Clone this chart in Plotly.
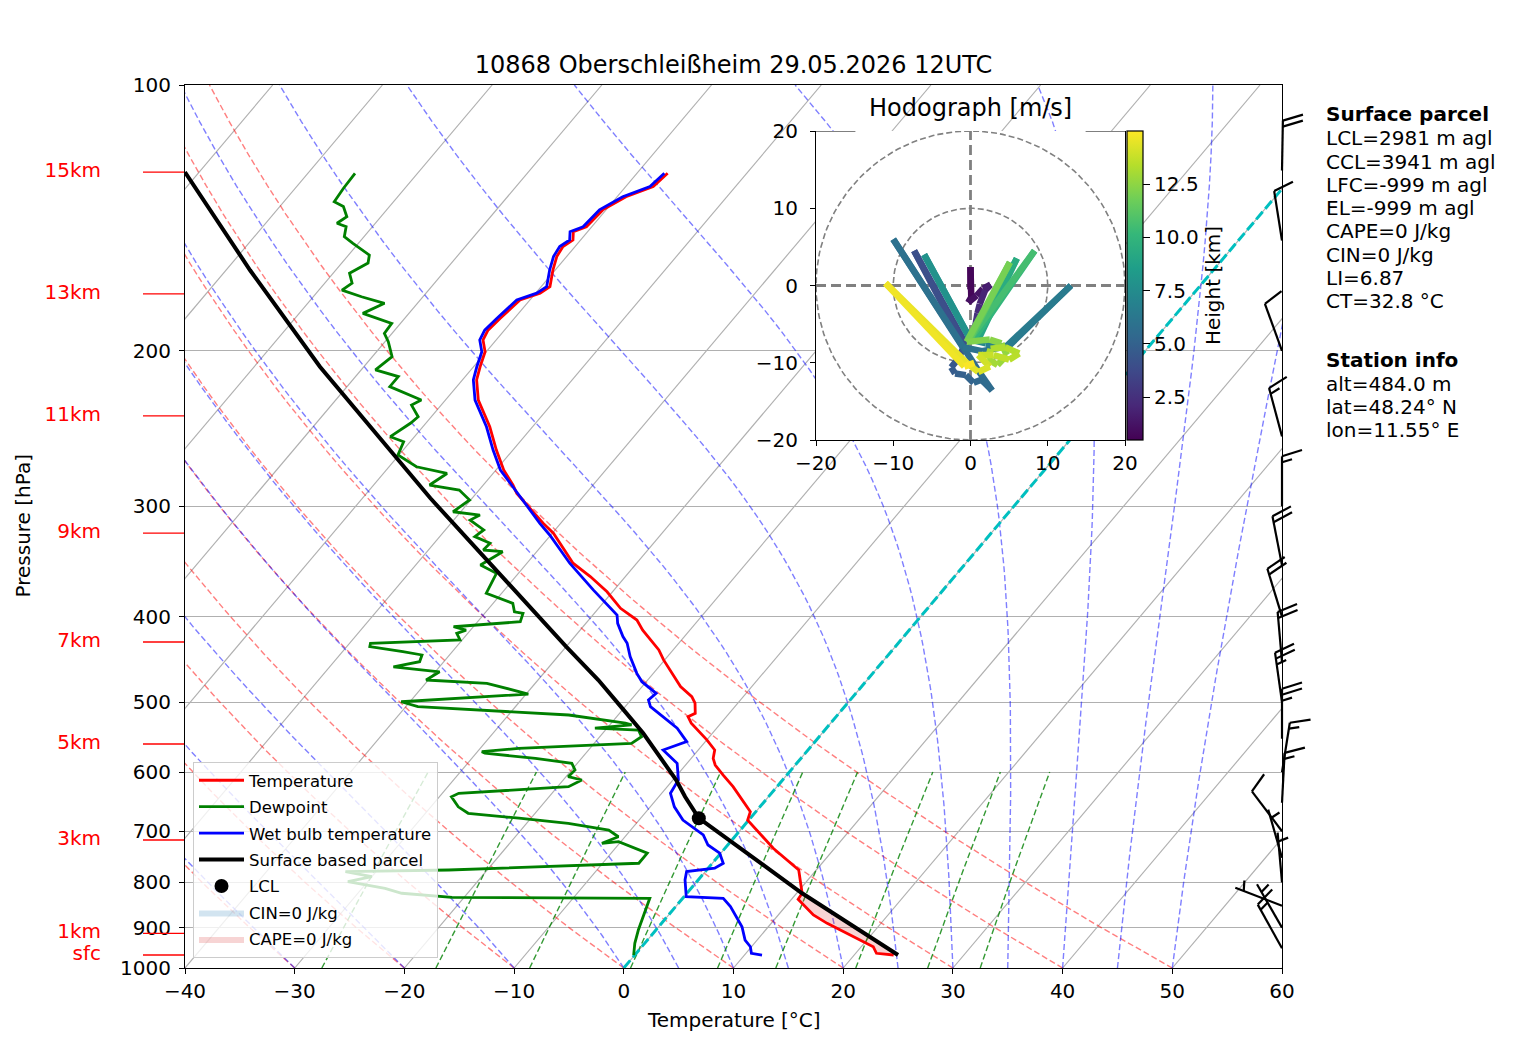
import numpy as np
import plotly.graph_objects as go
from plotly.colors import sample_colorscale

# ---------------------------------------------------------------- data
TITLE = "10868 Oberschleißheim 29.05.2026 12UTC"

# temperature profile (hPa, degC)
T_P = [966.7, 962.4, 946.0, 921.6, 890.1, 870.9, 835.9, 822.9, 794.8, 774.5,
       731.8, 700.9, 680.0, 665.3, 623.3, 604.6, 589.0, 578.8, 566.4, 551.6,
       528.2, 519.2, 514.7, 501.3, 492.8, 480.1, 447.8, 436.3, 414.3, 403.6,
       391.4, 374.9, 360.3, 348.0, 321.8, 313.6, 290.1, 283.8, 272.9, 259.1,
       243.8, 227.4, 215.8, 208.5, 200.5, 194.4, 189.5, 183.7, 178.3, 175.2,
       172.1, 169.2, 162.1, 156.4, 152.4, 149.8, 146.6, 144.7, 138.5, 133.8,
       130.3, 127.0, 125.9]
T_C = [23.6, 21.9, 21.1, 18.5, 15.1, 13.2, 10.6, 10.5, 9.3, 8.4,
       4.4, 1.8, -0.1, -0.5, -4.0, -5.8, -7.3, -8.0, -8.5, -10.0,
       -12.7, -13.5, -13.1, -13.9, -14.7, -16.5, -20.1, -21.3, -24.3, -25.6,
       -28.0, -30.5, -33.2, -35.8, -39.9, -41.6, -46.3, -47.3, -49.3, -51.5,
       -53.9, -57.0, -58.7, -59.4, -60.1, -61.2, -61.5, -61.3, -61.0, -60.9,
       -59.6, -59.2, -60.2, -60.9, -61.1, -60.7, -61.3, -60.5, -60.3, -59.2,
       -57.5, -57.3, -57.2]

# dewpoint profile
TD_P = [966.7, 937.6, 905.7, 874.7, 852.2, 833.8, 831.8, 822.9, 812.4, 798.5,
        788.1, 777.7, 774.5, 761.0, 741.3, 728.9, 719.4, 722.4, 710.2, 697.8,
        685.9, 676.6, 668.0, 656.9, 639.8, 634.1, 623.3, 612.5, 607.2, 596.6,
        586.4, 578.8, 571.2, 568.9, 563.9, 556.6, 547.0, 537.6, 535.1, 530.6,
        528.2, 517.0, 505.8, 499.4, 489.5, 476.0, 471.9, 461.9, 455.9, 449.9,
        442.1, 438.3, 432.6, 428.8, 425.0, 417.8, 414.3, 410.7, 405.4, 396.6,
        395.0, 386.4, 376.3, 363.5, 357.3, 349.6, 337.7, 336.2, 330.4, 324.7,
        319.1, 311.0, 306.9, 304.3, 295.1, 287.6, 283.8, 275.4, 270.6, 262.4,
        253.5, 250.2, 241.6, 237.5, 230.4, 227.4, 219.6, 213.9, 210.2, 203.1,
        195.3, 191.1, 186.2, 181.4, 176.7, 173.7, 170.7, 167.7, 163.4, 159.1,
        155.8, 151.1, 148.5, 144.7, 143.4, 141.0, 137.3, 135.6, 130.9, 125.9]
TD_C = [-0.1, -0.9, -1.6, -2.2, -2.6, -3.0, -21.1, -26.0, -27.9, -31.8,
        -30.0, -32.8, -23.5, -6.7, -6.7, -8.6, -10.2, -11.6, -10.6, -12.0,
        -16.2, -21.1, -26.1, -27.5, -28.9, -28.5, -19.0, -18.3, -19.8, -19.7,
        -20.5, -24.2, -29.2, -29.6, -26.5, -16.6, -16.2, -17.0, -21.1, -18.0,
        -18.7, -24.5, -38.9, -40.8, -29.8, -34.4, -40.2, -39.6, -44.2, -42.2,
        -42.5, -44.5, -47.9, -48.1, -40.2, -41.0, -40.4, -41.8, -36.1, -36.5,
        -37.4, -38.2, -41.4, -41.8, -42.0, -44.1, -43.1, -45.0, -44.9, -46.8,
        -46.5, -48.5, -48.0, -50.7, -50.1, -51.8, -54.9, -54.2, -57.5, -60.1,
        -60.6, -62.2, -61.4, -61.2, -62.7, -62.2, -66.1, -66.1, -68.7, -68.2,
        -69.7, -70.7, -70.8, -74.2, -73.0, -75.6, -77.9, -77.5, -78.5, -77.6,
        -78.1, -80.5, -81.8, -82.4, -83.5, -83.1, -84.2, -85.4, -85.6, -85.7]

# wet bulb temperature profile
TW_P = [966.7, 962.4, 946.0, 929.6, 898.1, 867.0, 852.2, 833.8, 830.3, 794.8,
        777.7, 770.9, 761.0, 741.3, 725.6, 706.9, 697.8, 680.0, 656.9, 634.1,
        612.5, 586.4, 566.4, 554.1, 535.1, 523.7, 505.8, 497.0, 488.6, 474.0,
        463.8, 444.0, 428.8, 421.4, 407.1, 398.3, 386.4, 373.1, 348.0, 323.3,
        313.6, 287.6, 272.9, 259.1, 243.8, 227.4, 215.8, 208.5, 200.5, 194.4,
        189.5, 183.7, 178.3, 175.2, 172.1, 169.2, 162.1, 156.4, 152.4, 149.8,
        146.6, 144.7, 138.5, 133.8, 130.3, 127.0, 125.9]
TW_C = [11.6, 10.5, 9.9, 8.9, 7.6, 5.8, 5.0, 3.7, 0.2, -1.2,
        -1.7, 0.6, 1.0, -0.1, -1.8, -3.0, -4.0, -6.0, -7.8, -9.2,
        -9.5, -10.9, -13.2, -11.7, -13.6, -15.2, -17.7, -18.4, -18.2, -20.4,
        -21.5, -23.4, -24.7, -25.6, -27.1, -27.8, -29.7, -31.9, -36.1, -40.1,
        -41.9, -46.7, -49.6, -51.8, -54.2, -57.3, -59.0, -59.7, -60.4, -61.5,
        -61.8, -61.6, -61.3, -61.2, -59.9, -59.5, -60.5, -61.2, -61.4, -61.0,
        -61.6, -60.8, -60.6, -59.5, -57.8, -57.6, -57.5]

# surface based parcel path
PARCEL_P = [966.7, 822.9, 676.6, 639.8, 612.5, 542.3, 510.1, 471.9, 432.6,
            351.1, 319.1, 293.8, 208.5, 162.1, 125.5]
PARCEL_C = [24.0, 10.5, -4.7, -7.6, -9.7, -16.3, -19.9, -24.5, -30.0,
            -42.8, -48.7, -53.8, -74.0, -87.8, -101.3]
LCL_P, LCL_C = 676.6, -4.7

# height marks on the left
HEIGHT_LABELS = ["15km", "13km", "11km", "9km", "7km", "5km", "3km", "1km", "sfc"]
HEIGHT_P = [125.5, 172.4, 237.0, 321.7, 427.3, 557.6, 716.1, 913.6, 966.7]

# wind barbs (direction in deg, speed in kt)
BARB_P = [125, 150, 200, 250, 300, 350, 400, 450, 500, 550, 600, 650,
          700, 750, 800, 850, 900, 950]
BARB_DIR = [1, 351, 340, 345, 0, 349, 343, 355, 352, 0, 9, 3,
            323, 344, 355, 291, 330, 331]
BARB_KT = [20, 10, 10, 15, 15, 20, 20, 20, 25, 25, 15, 15,
           10, 5, 5, 5, 5, 15]

# hodograph (m/s) and height (km)
HODO_U = [0.0, 0.0, 0.1, -0.3, 0.8, 1.6, 2.6, 1.9, 1.2, 0.9,
          0.7, 0.4, -0.6, -7.3, -0.8, -1.6, -2.5, -2.0, -0.6, 0.4,
          1.4, 2.8, 1.0, -1.3, -10.0, -1.0, 1.5, 5.0, 13.0, 4.5,
          2.0, 0.0, -6.0, 0.0, 1.0, 6.0, 0.5, 8.3, 0.0, 5.1,
          -0.5, 2.5, 4.0, 4.7, 3.5, 2.2, 2.6, 4.5, 6.3, 5.0,
          3.0, 1.0, 2.5, 1.0, -0.5, -11.0, -0.8, 0.5]
HODO_V = [-0.5, 2.4, -1.5, -2.2, -1.3, -0.4, 0.1, -0.6, -2.4, -3.6,
          -4.8, -6.2, -7.6, 4.5, -7.8, -9.5, -10.6, -11.4, -11.6, -12.6,
          -12.2, -13.6, -11.0, -7.4, 6.0, -8.0, -8.5, -7.8, 0.0, -8.0,
          -7.5, -7.0, 4.0, -7.0, -7.0, 3.5, -6.8, 4.5, -6.8, 3.0,
          -7.3, -7.0, -7.5, -9.0, -10.3, -9.5, -8.2, -8.0, -8.8, -9.6,
          -9.0, -9.0, -10.5, -11.2, -10.0, 0.3, -10.5, -10.0]
HODO_H = [0.48, 0.6, 0.8, 1.0, 1.2, 1.4, 1.6, 1.8, 2.1, 2.4,
          2.8, 3.2, 3.6, 3.9, 4.1, 4.4, 4.6, 4.8, 5.0, 5.2,
          5.4, 5.5, 5.6, 5.7, 5.8, 5.9, 6.0, 6.2, 6.4, 6.6,
          7.0, 7.4, 7.7, 8.0, 8.8, 9.3, 9.6, 10.4, 10.8, 11.8,
          12.1, 12.3, 12.5, 12.7, 12.9, 13.1, 13.2, 13.3, 13.4, 13.5,
          13.7, 13.9, 14.1, 14.3, 14.5, 14.6, 14.8, 15.0]

PARCEL_TEXT = ["LCL=2981 m agl", "CCL=3941 m agl", "LFC=-999 m agl",
               "EL=-999 m agl", "CAPE=0 J/kg", "CIN=0 J/kg", "LI=6.87",
               "CT=32.8 °C"]
STATION_TEXT = ["alt=484.0 m", "lat=48.24° N", "lon=11.55° E"]

# ---------------------------------------------------------------- chart setup
W, H = 1517, 1054           # browser window
PAGE_PAD = 8                # default body margin of the html page
FIG_W, FIG_H = W - 2 * PAGE_PAD, H - 2 * PAGE_PAD
FONT = "DejaVu Sans"
PLOT_L, PLOT_R, PLOT_T, PLOT_B = 185, 1282, 85, 968      # main axes, window px
HODO_L, HODO_R, HODO_T, HODO_B = 816, 1125, 131, 440     # hodograph axes, window px
BARB_RIGHT = 1330
PX_PER_DEC = PLOT_B - PLOT_T                              # one pressure decade
SKEW = 68.0                                               # degC per decade
P_BOT, P_TOP = 1000, 100
P_TICKS = [100, 200, 300, 400, 500, 600, 700, 800, 900, 1000]
T_TICKS = list(range(-40, 61, 10))
DRY_T0 = list(range(-40, 51, 10))
MOIST_T0 = list(range(-40, 0, 10)) + list(range(0, 51, 5))
MIX_W = [0.0004, 0.001, 0.002, 0.004, 0.007, 0.01, 0.016, 0.024, 0.032]
HODO_LIM = 20
HODO_TOP_GAP = 14.9

RD, CP, LV, EPS = 287.04749, 1004.6662, 2.50084e6, 0.6219569


def px(x):
    return (x - PAGE_PAD) / FIG_W


def py(y):
    return 1 - (y - PAGE_PAD) / FIG_H


def skew_x(t, p):
    return np.asarray(t, dtype=float) + SKEW * np.log10(P_BOT / np.asarray(p, dtype=float))


def moist_dt(p, t):
    es = 6.112 * np.exp(17.67 * (t - 273.15) / (t - 29.65))
    rs = EPS * es / (p - es)
    return (RD * t + LV * rs) / (CP + LV * LV * rs * EPS / (RD * t * t)) / p


def moist_profile(t0, pres):
    t = t0 + 273.15
    out = [t]
    for i in range(len(pres) - 1):
        p, h = pres[i], pres[i + 1] - pres[i]
        k1 = moist_dt(p, t)
        k2 = moist_dt(p + h / 2, t + h / 2 * k1)
        k3 = moist_dt(p + h / 2, t + h / 2 * k2)
        k4 = moist_dt(p + h, t + h * k3)
        t = t + h / 6 * (k1 + 2 * k2 + 2 * k3 + k4)
        out.append(t)
    return np.array(out) - 273.15


def line(x, y, color, width, dash="solid", xaxis="x", yaxis="y", **kw):
    return go.Scatter(x=x, y=y, mode="lines", xaxis=xaxis, yaxis=yaxis,
                      line=dict(color=color, width=width, dash=dash),
                      hoverinfo="skip", showlegend=kw.pop("showlegend", False), **kw)


fig = go.Figure()

# isotherms
for t in range(-110, 61, 10):
    fig.add_trace(line(skew_x([t, t], [P_BOT, P_TOP]), [P_BOT, P_TOP], "#b0b0b0", 1.15))

p_full = np.linspace(P_BOT, P_TOP, 91)
# dry adiabats
for t0 in DRY_T0:
    t = (t0 + 273.15) * (p_full / 1000.0) ** 0.2857 - 273.15
    fig.add_trace(line(skew_x(t, p_full), p_full, "rgba(255,0,0,0.5)", 1.4, "6px,3px"))
# moist adiabats
for t0 in MOIST_T0:
    t = moist_profile(t0, p_full)
    fig.add_trace(line(skew_x(t, p_full), p_full, "rgba(0,0,255,0.5)", 1.4, "6px,3px"))
# mixing ratio lines
p_mix = np.linspace(1000, 600, 20)
for w in MIX_W:
    e = p_mix * w / (EPS + w)
    le = np.log(e / 6.112)
    td = 243.5 * le / (17.67 - le)
    fig.add_trace(line(skew_x(td, p_mix), p_mix, "rgba(0,128,0,0.8)", 1.4, "6px,3px"))
# 0 degC isotherm
fig.add_trace(line(skew_x([0, 0], [P_BOT, P_TOP]), [P_BOT, P_TOP], "#00bfbf", 3, "10px,4px"))

# CAPE shading (parcel warmer than environment near the ground)
n_low = sum(1 for p in T_P if p >= PARCEL_P[1])
cape_p = T_P[:n_low] + PARCEL_P[1::-1]
cape_t = T_C[:n_low] + PARCEL_C[1::-1]
fig.add_trace(go.Scatter(x=skew_x(cape_t, cape_p), y=cape_p, mode="lines", fill="toself",
                         fillcolor="rgba(214,39,40,0.2)", line=dict(width=0),
                         name="CAPE=0 J/kg", legendgroup="g7", legendrank=7, hoverinfo="skip"))

fig.add_trace(line(skew_x(T_C, T_P), T_P, "#ff0000", 2.8, name="Temperature",
                   showlegend=True, legendgroup="g1", legendrank=1))
fig.add_trace(line(skew_x(TD_C, TD_P), TD_P, "#008000", 2.8, name="Dewpoint",
                   showlegend=True, legendgroup="g2", legendrank=2))
fig.add_trace(line(skew_x(TW_C, TW_P), TW_P, "#0000ff", 2.8, name="Wet bulb temperature",
                   showlegend=True, legendgroup="g3", legendrank=3))
fig.add_trace(line(skew_x(PARCEL_C, PARCEL_P), PARCEL_P, "black", 4, name="Surface based parcel",
                   showlegend=True, legendgroup="g4", legendrank=4))
fig.add_trace(go.Scatter(x=skew_x([LCL_C], [LCL_P]), y=[LCL_P], mode="markers",
                         marker=dict(color="black", size=14), name="LCL",
                         legendgroup="g5", legendrank=5, hoverinfo="skip"))
fig.add_trace(go.Scatter(x=[None], y=[None], mode="lines", fill="toself",
                         fillcolor="rgba(31,119,180,0.2)", line=dict(width=0),
                         name="CIN=0 J/kg", legendgroup="g6", legendrank=6))

# height marks left of the axis (own x axis, pressure axis without grid)
mark_x, mark_y = [], []
for p in HEIGHT_P:
    mark_x += [143, 184, None]
    mark_y += [p, p, None]
fig.add_trace(line(mark_x, mark_y, "#ff0000", 1.4, xaxis="x4", yaxis="y3"))
fig.add_trace(go.Scatter(x=[101] * len(HEIGHT_P), y=HEIGHT_P, text=HEIGHT_LABELS,
                         mode="text", textposition="middle left", xaxis="x4", yaxis="y3",
                         textfont=dict(color="#ff0000", size=20, family=FONT),
                         showlegend=False, hoverinfo="skip"))

# wind barbs at the right edge
STAFF, FEATHER, SPACING = 50.0, 20.0, 6.0
bx, by = [], []


def to_p(p, up):
    return p * 10 ** (-up / PX_PER_DEC)


for p, d, spd in zip(BARB_P, BARB_DIR, BARB_KT):
    a = np.radians(d)
    sx, sy = np.sin(a), np.cos(a)
    nx, ny = sy, -sx
    bx += [PLOT_R, PLOT_R + STAFF * sx, None]
    by += [p, to_p(p, STAFF * sy), None]
    n_full, half = int(spd // 10), (spd % 10) >= 5
    for i in range(n_full):
        ox, oy = STAFF * sx - i * SPACING * sx, STAFF * sy - i * SPACING * sy
        bx += [PLOT_R + ox, PLOT_R + ox + FEATHER * nx + 6.25 * sx, None]
        by += [to_p(p, oy), to_p(p, oy + FEATHER * ny + 6.25 * sy), None]
    if half:
        k = n_full if n_full else 1.5
        ox, oy = STAFF * sx - k * SPACING * sx, STAFF * sy - k * SPACING * sy
        bx += [PLOT_R + ox, PLOT_R + ox + FEATHER / 2 * nx + 3.1 * sx, None]
        by += [to_p(p, oy), to_p(p, oy + FEATHER / 2 * ny + 3.1 * sy), None]
fig.add_trace(line(bx, by, "black", 2.2, xaxis="x3", yaxis="y3"))

# ---------------------------------------------------------------- hodograph
lim = [-HODO_LIM, HODO_LIM]
fig.add_trace(go.Scatter(x=[lim[0], lim[1], lim[1], lim[0], lim[0]],
                         y=[lim[0], lim[0], lim[1], lim[1], lim[0]],
                         mode="lines", fill="toself", fillcolor="white", line=dict(width=0),
                         xaxis="x2", yaxis="y2", showlegend=False, hoverinfo="skip"))
ang = np.linspace(0, 2 * np.pi, 181)
for r in (10, 20):
    fig.add_trace(line(r * np.cos(ang), r * np.sin(ang), "#808080", 1.6, "6px,3px",
                       xaxis="x2", yaxis="y2"))
fig.add_trace(line(lim, [0, 0], "#808080", 2.8, "10px,5px", xaxis="x2", yaxis="y2"))
fig.add_trace(line([0, 0], lim, "#808080", 2.8, "10px,5px", xaxis="x2", yaxis="y2"))

h_min, h_max = min(HODO_H), max(HODO_H)
for i in range(len(HODO_U) - 1):
    hm = (HODO_H[i] + HODO_H[i + 1]) / 2
    col = sample_colorscale("Viridis", [(hm - h_min) / (h_max - h_min)])[0]
    fig.add_trace(line(HODO_U[i:i + 2], HODO_V[i:i + 2], col, 6.5, xaxis="x2", yaxis="y2"))

fig.add_trace(go.Scatter(
    x=HODO_U, y=HODO_V, mode="markers", xaxis="x2", yaxis="y2", showlegend=False,
    hoverinfo="skip",
    marker=dict(color=HODO_H, colorscale="Viridis", cmin=h_min, cmax=h_max, size=1, opacity=0,
                showscale=True,
                colorbar=dict(x=px(HODO_R + 2), xanchor="left", xpad=0,
                              y=py((HODO_T + HODO_B) / 2), yanchor="middle", ypad=0,
                              len=(HODO_B - HODO_T) / FIG_H, lenmode="fraction", thickness=16,
                              outlinewidth=1.2, outlinecolor="black",
                              ticks="outside", ticklen=7, tickcolor="black",
                              tickvals=[2.5, 5.0, 7.5, 10.0, 12.5],
                              ticktext=["2.5", "5.0", "7.5", "10.0", "12.5"],
                              tickfont=dict(size=20, family=FONT),
                              title=dict(text="Height [km]", side="right",
                                         font=dict(size=20, family=FONT))))))

# ---------------------------------------------------------------- layout
axis_common = dict(ticks="outside", ticklen=5, tickwidth=1.2, tickcolor="black",
                   showline=True, linecolor="black", linewidth=1.2, zeroline=False,
                   tickfont=dict(size=20, family=FONT))

annotations = [
    dict(text="Temperature [°C]", x=px((PLOT_L + PLOT_R) / 2), y=py(1020)),
    dict(text="Pressure [hPa]", x=px(23), y=py((PLOT_T + PLOT_B) / 2), textangle=-90),
    dict(text="Hodograph [m/s]", x=px((HODO_L + HODO_R) / 2), y=py(108), font=dict(size=24)),
    dict(text="<b>Surface parcel</b>", x=px(1324), y=py(114), xanchor="left"),
    dict(text="<b>Station info</b>", x=px(1324), y=py(360), xanchor="left"),
]
for i, s in enumerate(PARCEL_TEXT):
    annotations.append(dict(text=s, x=px(1324), y=py(138.5 + 23.2 * i), xanchor="left"))
for i, s in enumerate(STATION_TEXT):
    annotations.append(dict(text=s, x=px(1324), y=py(383.5 + 23.2 * i), xanchor="left"))
for a in annotations:
    a.setdefault("xanchor", "center")
    a.update(xref="paper", yref="paper", yanchor="middle", showarrow=False)
    a.setdefault("font", dict(size=20))
    a["font"].update(family=FONT, color="black")

fig.update_layout(
    width=FIG_W, height=FIG_H, margin=dict(l=0, r=0, t=0, b=0, autoexpand=False),
    paper_bgcolor="white", plot_bgcolor="rgba(0,0,0,0)", hovermode=False,
    font=dict(family=FONT, size=20, color="black"),
    title=dict(text=TITLE, x=px((PLOT_L + PLOT_R) / 2), xanchor="center",
               y=py(65), yanchor="middle", font=dict(size=24, family=FONT, color="black")),
    xaxis=dict(domain=[px(PLOT_L), px(PLOT_R)], range=[T_TICKS[0], T_TICKS[-1]],
               tickvals=T_TICKS, showgrid=False, mirror=True, anchor="y", **axis_common),
    yaxis=dict(domain=[py(PLOT_B), py(PLOT_T)], type="log",
               range=[np.log10(P_BOT), np.log10(P_TOP)], tickvals=P_TICKS,
               ticktext=[str(p) for p in P_TICKS], showgrid=True, gridcolor="#b0b0b0",
               gridwidth=1.15, mirror=True, anchor="x", ticklabelstandoff=4, **axis_common),
    yaxis3=dict(domain=[py(PLOT_B), py(PLOT_T)], type="log",
                range=[np.log10(P_BOT), np.log10(P_TOP)], anchor="x3", visible=False),
    xaxis2=dict(domain=[px(HODO_L), px(HODO_R)], range=lim, anchor="y2",
                tickvals=[-20, -10, 0, 10, 20], showgrid=False, mirror=False, **axis_common),
    yaxis2=dict(domain=[py(HODO_B), py(HODO_T)], range=lim, anchor="x2",
                tickvals=[-20, -10, 0, 10, 20], showgrid=False, mirror=True,
                ticklabelstandoff=8, **axis_common),
    xaxis3=dict(domain=[px(PLOT_L), px(BARB_RIGHT)], range=[PLOT_L, BARB_RIGHT],
                anchor="y3", visible=False),
    xaxis4=dict(domain=[px(PAGE_PAD), px(PLOT_L)], range=[PAGE_PAD, PLOT_L], anchor="y3",
                visible=False),
    legend=dict(x=px(193), y=py(958), xanchor="left", yanchor="bottom",
                bgcolor="rgba(255,255,255,0.8)", bordercolor="#cccccc", borderwidth=1,
                font=dict(size=16.5, family=FONT), tracegroupgap=2, itemwidth=45),
    annotations=annotations,
    shapes=[dict(type="line", xref="x2", yref="y2", x0=x0, x1=x1, y0=HODO_LIM, y1=HODO_LIM,
                 line=dict(color="black", width=1.2))
            for x0, x1 in ((-HODO_LIM, -HODO_TOP_GAP), (HODO_TOP_GAP, HODO_LIM))],
)

fig.write_html("out.html")
